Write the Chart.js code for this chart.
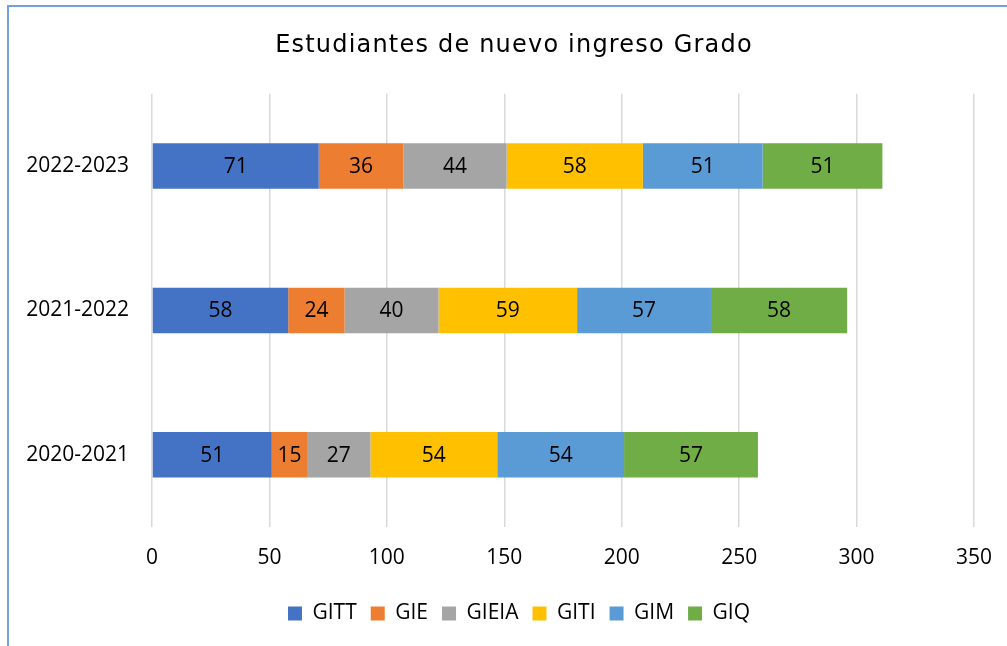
<!DOCTYPE html>
<html>
<head>
<meta charset="utf-8">
<script src="https://cdn.jsdelivr.net/npm/chart.js@4"></script>
<style>
html,body{margin:0;padding:0;background:#fff;}
#wrap{width:1007px;height:646px;position:relative;}
</style>
</head>
<body>
<div id="wrap"><canvas id="c" width="1007" height="646"></canvas></div>
<script>
const categories = ['2022-2023', '2021-2022', '2020-2021'];
const seriesNames = ['GITT', 'GIE', 'GIEIA', 'GITI', 'GIM', 'GIQ'];
const GITT  = [71, 58, 51];
const GIE   = [36, 24, 15];
const GIEIA = [44, 40, 27];
const GITI  = [58, 59, 54];
const GIM   = [51, 57, 54];
const GIQ   = [51, 58, 57];
const xTicks = [0, 50, 100, 150, 200, 250, 300, 350];
const titleText = 'Estudiantes de nuevo ingreso Grado';

const seriesValues = [GITT, GIE, GIEIA, GITI, GIM, GIQ];
const colors = ['#4472C4', '#ED7D31', '#A5A5A5', '#FFC000', '#5B9BD5', '#70AD47'];

const FONT = '"Open Sans", "Noto Sans", sans-serif';

const frameBorder = {
  id: 'frameBorder',
  beforeDraw(chart) {
    const ctx = chart.ctx;
    ctx.save();
    ctx.strokeStyle = '#6fa3da';
    ctx.lineWidth = 2;
    ctx.beginPath();
    ctx.moveTo(8, 646);
    ctx.lineTo(8, 6);
    ctx.lineTo(1007, 6);
    ctx.stroke();
    ctx.restore();
  }
};

const barLabels = {
  id: 'barLabels',
  afterDatasetsDraw(chart) {
    const ctx = chart.ctx;
    ctx.save();
    ctx.font = '21px ' + FONT;
    ctx.fillStyle = '#000';
    ctx.textAlign = 'center';
    ctx.textBaseline = 'middle';
    chart.data.datasets.forEach((ds, i) => {
      const meta = chart.getDatasetMeta(i);
      meta.data.forEach((el, j) => {
        const p = el.getProps(['x', 'y', 'base'], true);
        ctx.fillText(String(ds.data[j]), (p.x + p.base) / 2, p.y + 1);
      });
    });
    ctx.restore();
  }
};

const chart = new Chart(document.getElementById('c'), {
  type: 'bar',
  data: {
    labels: categories,
    datasets: seriesNames.map((name, i) => ({
      label: name,
      data: seriesValues[i],
      backgroundColor: colors[i],
      borderWidth: 0,
      categoryPercentage: 0.315,
      barPercentage: 1
    }))
  },
  options: {
    indexAxis: 'y',
    responsive: false,
    animation: false,
    layout: { autoPadding: false, padding: { left: 0, right: 33, top: 0, bottom: 12 } },
    scales: {
      x: {
        stacked: true,
        min: 0,
        max: 350,
        afterBuildTicks(scale) { scale.ticks = xTicks.map(v => ({ value: v })); },
        afterFit(scale) { scale.height = 62; scale.paddingLeft = 0; scale.paddingRight = 0; },
        grid: { color: '#d9d9d9', lineWidth: 1.5, drawTicks: false },
        border: { display: false },
        ticks: { font: { family: FONT, size: 21 }, color: '#000', padding: 18 }
      },
      y: {
        stacked: true,
        afterFit(scale) { scale.width = 152; },
        grid: { display: false, drawTicks: false },
        border: { display: false },
        ticks: { font: { family: FONT, size: 21 }, color: '#000', padding: 23 }
      }
    },
    plugins: {
      title: {
        display: true,
        text: titleText,
        color: '#000',
        font: { family: '"DejaVu Sans", sans-serif', size: 24, weight: 'normal' },
        padding: { top: 31, bottom: 34 }
      },
      legend: {
        position: 'bottom',
        labels: {
          boxWidth: 14,
          boxHeight: 14,
          padding: 14,
          color: '#000',
          font: { family: FONT, size: 21 }
        }
      },
      tooltip: { enabled: false }
    }
  },
  plugins: [frameBorder, barLabels]
});

// title: wider letter spacing and centred like the reference (x≈514)
if (chart.titleBlock) {
  const tb = chart.titleBlock;
  const origDraw = tb.draw.bind(tb);
  tb.draw = function () {
    const ctx = chart.ctx;
    ctx.save();
    ctx.letterSpacing = '1.2px';
    ctx.translate(27, 0);
    origDraw();
    ctx.restore();
  };
}
// legend centred like the reference (x≈519)
if (chart.legend) {
  const lg = chart.legend;
  const origLegendDraw = lg.draw.bind(lg);
  lg.draw = function () {
    const ctx = chart.ctx;
    ctx.save();
    ctx.translate(32, 0);
    origLegendDraw();
    ctx.restore();
  };
}
chart.draw();
</script>
</body>
</html>
